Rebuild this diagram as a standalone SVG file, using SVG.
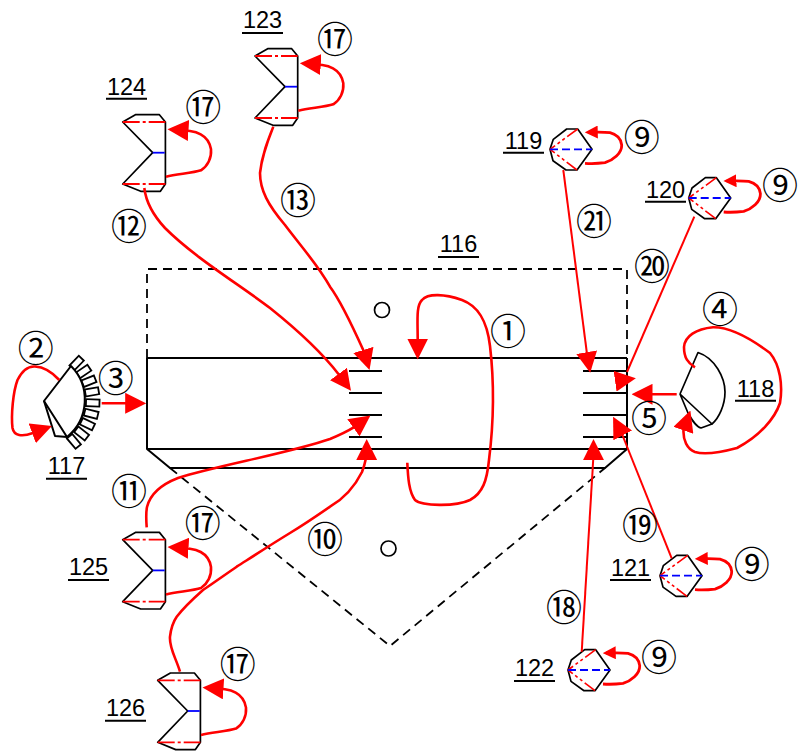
<svg xmlns="http://www.w3.org/2000/svg" width="798" height="752" viewBox="0 0 798 752">
<style>
.bk{fill:none;stroke:#000;stroke-width:2;stroke-linejoin:round}
.hb{fill:none;stroke:#000;stroke-width:1.7;stroke-linejoin:round}
.ds{fill:none;stroke:#000;stroke-width:1.8;stroke-dasharray:9 6}
.rd{fill:none;stroke:#f00;stroke-width:1.8;stroke-dasharray:17 3 3 3}
.rh{fill:none;stroke:#f00;stroke-width:1.6;stroke-dasharray:13 3 3 3 3 3}
.bl{fill:none;stroke:#00f;stroke-width:1.8}
.bd{fill:none;stroke:#00f;stroke-width:1.8;stroke-dasharray:8 4}
.big{fill:none;stroke:#f00;stroke-width:2.6;marker-end:url(#big)}
.sm{fill:none;stroke:#f00;stroke-width:2.8;marker-end:url(#sm)}
.ln{fill:none;stroke:#f00;stroke-width:2}
.tooth{fill:#fff;stroke:#000;stroke-width:1.8}
.ul{stroke:#000;stroke-width:2}
.id{font:23.5px "Liberation Sans","Noto Sans CJK JP",sans-serif;fill:#000;text-anchor:middle}
.nb{font:36px "Noto Sans CJK JP",sans-serif;fill:#000;text-anchor:middle}
</style>
<defs>
<marker id="big" markerUnits="userSpaceOnUse" markerWidth="21" markerHeight="21" viewBox="0 0 20 20" refX="16" refY="10" orient="auto"><path d="M0,0L20,10L0,20z" fill="#f00"/></marker>
<marker id="sm" markerUnits="userSpaceOnUse" markerWidth="13" markerHeight="13" viewBox="0 0 12 12" refX="9" refY="6" orient="auto"><path d="M0,0L12,6L0,12z" fill="#f00"/></marker>
<g id="vshape">
<path class="hb" d="M0,0L12.7,-7.3H36.7L42.7,0V62L37.7,69.3H18L0,62L30,30.7Z"/>
<path class="rd" d="M0,0H42.7M0,62H42.7"/>
<path class="bl" d="M30,30.7H42"/>
</g>
<g id="hexshape">
<path class="hb" d="M0,0L3.3,-10L16.7,-20.3H27.7L42,0L27,20.7H16L3,11.4Z"/>
<path class="rh" d="M27.7,-20.3L0,0M27,20.7L0,0"/>
<path class="bd" d="M0,0H42"/>
</g>
<rect id="tooth" class="tooth" x="46" y="-3.500" width="13.500" height="7"/>
<path id="vloop" class="big" d="M43.3,54.7C55,52 70,51 78.3,48.3C85,44 89,36 88.3,27.3C87,19 83,15 78,12.3C72,9 65,8.5 49,7.5"/>
<path id="hexloop" class="sm" d="M35,14C42,14.5 50,14 55,13.4C63,11 72,4 71.7,-4.3C71,-11 66,-15 60,-16.6C53,-17.5 46,-17.2 38,-17"/>
</defs>
<rect width="798" height="752" fill="#fff"/>
<g id="node-116">
<path class="ds" d="M147,358V269H627V358"/>
<path class="bk" d="M147,358H627M147,358V449H627V358M147,449L170,468H605L627,449"/>
<path class="ds" d="M170,468L390,646L605,468"/>
<path class="bk" d="M349,371H382M349,393H382M349,415H382M349,437H382M583,371H627M583,393H627M583,415H627M583,437H627"/>
<circle class="hb" cx="382" cy="310" r="7.500"/>
<circle class="hb" cx="388.500" cy="548.500" r="7.500"/>
<text class="id" x="458.500" y="252">116</text><line class="ul" x1="438" x2="479" y1="257" y2="257"/>
</g>
<g id="node-117">
<use href="#tooth" transform="translate(40 401) rotate(-46)"/>
<use href="#tooth" transform="translate(40 401) rotate(-34)"/>
<use href="#tooth" transform="translate(40 401) rotate(-22)"/>
<use href="#tooth" transform="translate(40 401) rotate(-10)"/>
<use href="#tooth" transform="translate(40 401) rotate(2)"/>
<use href="#tooth" transform="translate(40 401) rotate(14)"/>
<use href="#tooth" transform="translate(40 401) rotate(26)"/>
<use href="#tooth" transform="translate(40 401) rotate(38)"/>
<use href="#tooth" transform="translate(40 401) rotate(50)"/>
<path d="M44,401L71,366A48,48 0 0 1 67,437Z" fill="#fff" stroke="#000" stroke-width="2" stroke-linejoin="round"/>
<path class="bk" d="M44,401L55,436L67,437"/>
<text class="id" x="66.500" y="473.500">117</text><line class="ul" x1="46" x2="87" y1="478.700" y2="478.700"/>
</g>
<g id="node-118">
<path class="hb" d="M680,394L698,352.500C715,358 725,378 725,392C725,405 719,418 712,424L680,394L688,413C692,420 696,427 701,428L712,424"/>
<text class="id" x="755.500" y="397">118</text><line class="ul" x1="735" x2="776" y1="400.700" y2="400.700"/>
</g>
<g id="node-119"><use href="#hexshape" x="550" y="149.300"/><text class="id" x="523.500" y="148.500">119</text><line class="ul" x1="503" x2="544" y1="152.700" y2="152.700"/></g>
<g id="node-120"><use href="#hexshape" x="688.700" y="198"/><text class="id" x="665.500" y="197.700">120</text><line class="ul" x1="645" x2="686" y1="201.700" y2="201.700"/></g>
<g id="node-121"><use href="#hexshape" x="660" y="575.700"/><text class="id" x="630.500" y="576">121</text><line class="ul" x1="610" x2="651" y1="580" y2="580"/></g>
<g id="node-122"><use href="#hexshape" x="568" y="670"/><text class="id" x="534.500" y="676">122</text><line class="ul" x1="514" x2="555" y1="681" y2="681"/></g>
<g id="node-123"><use href="#vshape" x="255" y="56"/><text class="id" x="262.500" y="28">123</text><line class="ul" x1="242" x2="283" y1="33" y2="33"/></g>
<g id="node-124"><use href="#vshape" x="122.700" y="122"/><text class="id" x="126.500" y="95">124</text><line class="ul" x1="106" x2="147" y1="98.700" y2="98.700"/></g>
<g id="node-125"><use href="#vshape" x="122.700" y="539.700"/><text class="id" x="88.500" y="574.500">125</text><line class="ul" x1="68" x2="109" y1="580" y2="580"/></g>
<g id="node-126"><use href="#vshape" x="157.700" y="680.300"/><text class="id" x="125.500" y="716">126</text><line class="ul" x1="105" x2="146" y1="720.700" y2="720.700"/></g>
<g id="connectors">
<path class="big" d="M407.300,462.700C408,478 409,492 415,500C422,506 455,507 470,500C483,493 487,480 489,460C494,420 494,380 490,346C487,320 478,306 462,300C445,294 428,293 422,300C416,306 417.700,320 417.700,340L417.700,355.300"/>
<path class="big" d="M59.300,380C52,372 45,367 35,366.500C28,366 22,371 17.500,380C13,392 11,415 12.500,428C14,436 22,437 33,433L48,427.500"/>
<path class="big" d="M101.700,403.300H142"/>
<path class="big" d="M695,367.300C688,363 684,358 684,347C685,336 696,329 713,327.300C730,327 750,338 770,353C780,365 783,385 780,403C775,418 760,436 737,448C722,452 705,455 695,452C687,449 683,440 683.500,430L689,414.500"/>
<path class="big" d="M676.700,394.300H635.700"/>
<path class="big" d="M180,671.700C176,658 169,648 170,636.700C171,628 173,622 176.700,616.700C185,606 194,598 203,590C215,582 226,574 236.700,566.700C255,555 272,544 290,533C305,524 318,515 330,506.700C345,498 355,486 362,472C365,464 366.700,458 366.700,443.300"/>
<path class="big" d="M146.700,527.300C146,518 146,512 147,507C150,495 160,485 178,478C215,466 290,453 330,439C340,435 348,431 355,426.700L367,418"/>
<path class="big" d="M144.300,188C146,202 152,214 165,228C195,258 240,285 270,308C295,328 320,350 339,374.700L348.500,387.500"/>
<path class="big" d="M273.300,126.700C268,140 262,155 260,173C260,190 268,205 285,225C300,245 318,265 330,286.700C340,300 352,325 363.700,351L368.300,366"/>
<path class="ln" d="M581.700,651.700L593.500,455"/>
<path class="big" d="M593.500,459V443.300"/>
<path class="ln" d="M671.700,558.300L622,434"/>
<path class="big" d="M622,434L615,420.500"/>
<path class="ln" d="M694.300,216.700L627,372"/>
<path class="big" d="M618.300,380.700L631.700,378.800"/>
<path class="ln" d="M563.300,170L587,354"/>
<path class="big" d="M587,354L589.500,368.700"/>
<use href="#vloop" x="255" y="56"/>
<use href="#vloop" x="122.700" y="122"/>
<use href="#vloop" x="122.700" y="539.700"/>
<use href="#vloop" x="157.700" y="680.300"/>
<use href="#hexloop" x="550" y="149.300"/>
<use href="#hexloop" x="688.700" y="198"/>
<use href="#hexloop" x="660" y="575.700"/>
<use href="#hexloop" x="568" y="670"/>
</g>
<g id="labels">
<text class="nb" x="508" y="344.500">①</text>
<text class="nb" x="35.700" y="361.800">②</text>
<text class="nb" x="115.700" y="391.800">③</text>
<text class="nb" x="720" y="323.200">④</text>
<text class="nb" x="649" y="431.800">⑤</text>
<text class="nb" x="641.700" y="150.800">⑨</text>
<text class="nb" x="780" y="199.200">⑨</text>
<text class="nb" x="751.700" y="577.500">⑨</text>
<text class="nb" x="659" y="670.800">⑨</text>
<text class="nb" x="335" y="53.200">⑰</text>
<text class="nb" x="203.300" y="120.800">⑰</text>
<text class="nb" x="202.700" y="536.800">⑰</text>
<text class="nb" x="237.700" y="678.200">⑰</text>
<text class="nb" x="325" y="552.500">⑩</text>
<text class="nb" x="129" y="504.500">⑪</text>
<text class="nb" x="129" y="239.500">⑫</text>
<text class="nb" x="298" y="213.500">⑬</text>
<text class="nb" x="564" y="621.200">⑱</text>
<text class="nb" x="640" y="539.200">⑲</text>
<text class="nb" x="652" y="279.500">⑳</text>
<text class="nb" x="594" y="235.200">㉑</text>
</g>
</svg>
